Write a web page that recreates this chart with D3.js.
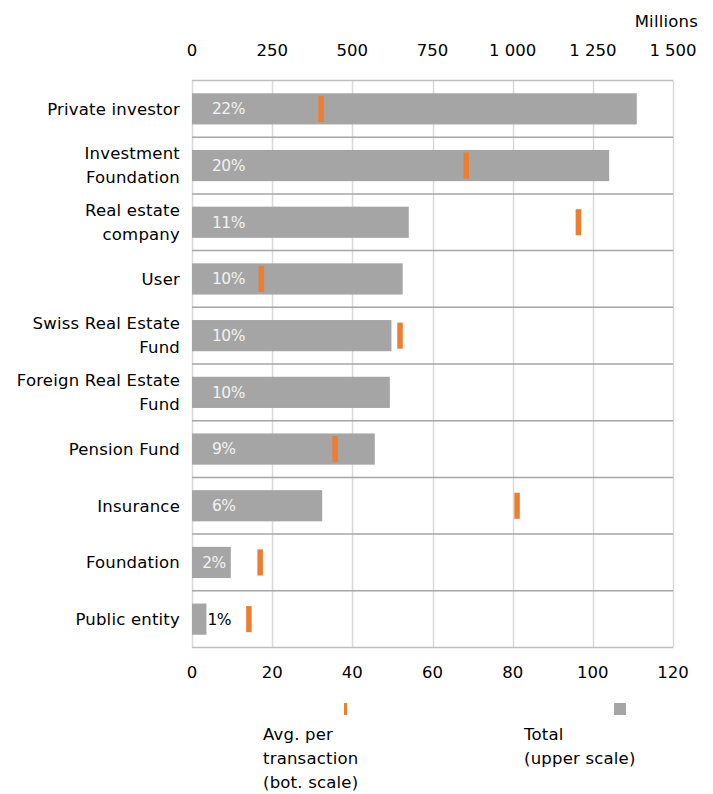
<!DOCTYPE html>
<html><head><meta charset="utf-8">
<script src="https://cdn.jsdelivr.net/npm/d3@7"></script>
<style>body{margin:0;background:#fff;} text{font-family:"DejaVu Sans",sans-serif;}</style>
</head><body>
<svg id="chart" width="713" height="794"></svg>
<script>
const categories = [["Private investor"],["Investment","Foundation"],["Real estate","company"],["User"],["Swiss Real Estate","Fund"],["Foreign Real Estate","Fund"],["Pension Fund"],["Insurance"],["Foundation"],["Public entity"]];
const totals = [1387, 1301, 676, 657, 622, 617, 570, 406, 121, 45];
const shares = ["22%","20%","11%","10%","10%","10%","9%","6%","2%","1%"];
const avgPerTx = [32.2, 68.4, 96.4, 17.3, 51.9, null, 35.7, 81.1, 17.0, 14.2];
const topTicks = [0,250,500,750,1000,1250,1500];
const botTicks = [0,20,40,60,80,100,120];

const svg = d3.select("#chart");
const L = 192, R = 673, T = 80.5, B = 647.5;
const xTop = d3.scaleLinear().domain([0,1500]).range([L,R]);
const xBot = d3.scaleLinear().domain([0,120]).range([L,R]);
const keys = categories.map((c,i)=>i);
const y = d3.scaleBand().domain(keys).range([T,B]);
const fmt = v => d3.format(",")(v).replace(/,/g," ");
const FS = 16.5, LS = 0.2;

// vertical gridlines
svg.append("g").selectAll("line").data(topTicks).join("line")
  .attr("x1",d=>Math.round(xTop(d))+0.5).attr("x2",d=>Math.round(xTop(d))+0.5)
  .attr("y1",T).attr("y2",B).attr("stroke","#d9d9d9").attr("stroke-width",1.5);
// horizontal row separators
const bounds = keys.map(k=>y(k)).concat([B]);
svg.append("g").selectAll("line").data(bounds).join("line")
  .attr("x1",L).attr("x2",R).attr("y1",d=>d).attr("y2",d=>d)
  .attr("stroke",(d,i)=> (i===0||i===bounds.length-1)?"#bfbfbf":"#a6a6a6").attr("stroke-width",1.5);

// bars
const bh = y.bandwidth()*0.55;
svg.append("g").selectAll("rect").data(totals).join("rect")
  .attr("x",L).attr("y",(d,i)=>y(i)+(y.bandwidth()-bh)/2)
  .attr("width",d=>xTop(d)-L).attr("height",bh).attr("fill","#a5a5a5");

// percent labels
svg.append("g").selectAll("text").data(shares).join("text")
  .attr("y",(d,i)=>y(i)+y.bandwidth()/2).attr("dy","0.35em")
  .attr("font-size",15.5).attr("letter-spacing","-0.5")
  .text(d=>d)
  .each(function(d,i){
    const w = this.getComputedTextLength();
    const end = xTop(totals[i]);
    let x = 212, fill = "#f2f2f2";
    if (end - w - 5 < x) x = end - w - 5;
    if (x < L + 3) { x = end + 1; fill = "#000"; }
    d3.select(this).attr("x",x).attr("fill",fill);
  });

// orange markers
const mw = 5.5, mh = y.bandwidth()*0.46;
svg.append("g").selectAll("rect").data(avgPerTx.map((v,i)=>({v,i})).filter(d=>d.v!=null)).join("rect")
  .attr("x",d=>xBot(d.v)-mw/2).attr("y",d=>y(d.i)+(y.bandwidth()-mh)/2)
  .attr("width",mw).attr("height",mh).attr("fill","#ed7d31");

// category labels
const cat = svg.append("g").selectAll("text").data(categories).join("text")
  .attr("text-anchor","end").attr("font-size",FS).attr("letter-spacing",LS).attr("fill","#000");
cat.each(function(lines,i){
  const cy = y(i)+y.bandwidth()/2;
  const n = lines.length;
  d3.select(this).selectAll("tspan").data(lines).join("tspan")
    .attr("x",180).attr("y",(d,j)=>cy+(j-(n-1)/2)*24).attr("dy","0.35em").text(d=>d);
});

// top axis labels
svg.append("g").selectAll("text").data(topTicks).join("text")
  .attr("x",d=>xTop(d)).attr("y",50).attr("dy","0.35em").attr("text-anchor","middle")
  .attr("font-size",FS).attr("fill","#000").text(d=>fmt(d));
svg.append("text").attr("x",698).attr("y",21).attr("dy","0.35em").attr("text-anchor","end")
  .attr("font-size",FS).attr("letter-spacing",LS).attr("fill","#000").text("Millions");
// bottom axis labels
svg.append("g").selectAll("text").data(botTicks).join("text")
  .attr("x",d=>xBot(d)).attr("y",672).attr("dy","0.35em").attr("text-anchor","middle")
  .attr("font-size",FS).attr("fill","#000").text(d=>fmt(d));

// legend
svg.append("rect").attr("x",344).attr("y",703).attr("width",3).attr("height",12).attr("fill","#ed7d31");
svg.append("rect").attr("x",614).attr("y",703).attr("width",12).attr("height",12).attr("fill","#a5a5a5");
const leg1 = svg.append("text").attr("font-size",FS).attr("letter-spacing",LS).attr("fill","#000");
leg1.selectAll("tspan").data(["Avg. per","transaction","(bot. scale)"]).join("tspan")
  .attr("x",263).attr("y",(d,j)=>734+j*24).attr("dy","0.35em").text(d=>d);
const leg2 = svg.append("text").attr("font-size",FS).attr("letter-spacing",LS).attr("fill","#000");
leg2.selectAll("tspan").data(["Total","(upper scale)"]).join("tspan")
  .attr("x",524).attr("y",(d,j)=>734+j*24).attr("dy","0.35em").text(d=>d);
</script>
</body></html>
